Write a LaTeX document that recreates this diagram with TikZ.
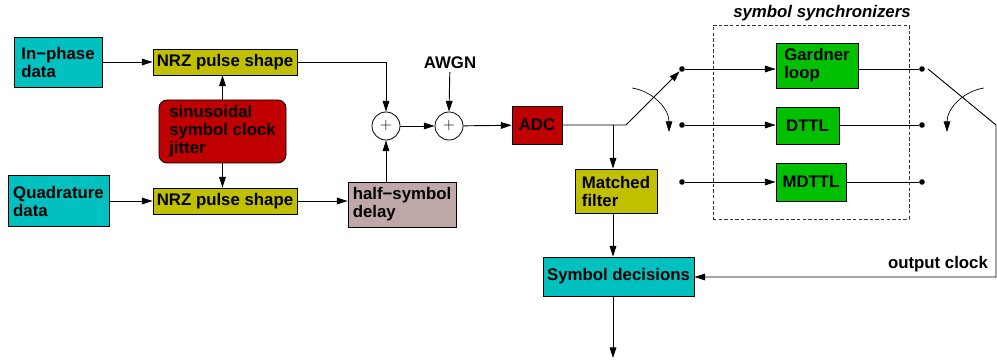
\documentclass[tikz,border=0pt]{standalone}
\usepackage{fontspec}
\setmainfont{Liberation Sans}
\usepackage{xcolor}
\usetikzlibrary{arrows.meta}

\definecolor{bcyan}{HTML}{00C0C0}
\definecolor{bolive}{HTML}{C0C000}
\definecolor{bred}{HTML}{C00000}
\definecolor{bgreen}{HTML}{00C000}
\definecolor{brose}{HTML}{C0A8A8}

\tikzset{
  blk/.style={draw=black, line width=0.6pt, align=left, inner sep=2pt},
  sumnode/.style={draw=black, line width=0.6pt, circle, minimum size=21pt, inner sep=0pt,
    font=\fontsize{12}{12}\selectfont},
  pin/.style={circle, fill=black, inner sep=0pt, minimum size=4.2pt},
  lbl/.style={inner sep=2pt},
}

\begin{document}
\begin{tikzpicture}[x=0.75pt, y=-0.75pt, line width=0.7pt,
    >={Triangle[length=8pt,width=5pt]},
    font=\fontsize{12.6}{13.5}\selectfont\bfseries]

  \useasboundingbox (0,0) rectangle (997,360);

  % transmitter side
  \node[blk,fill=bcyan,minimum width=66pt,minimum height=37.5pt] (InDa) at (58,62) {In−phase\\data};
  \node[blk,fill=bcyan,minimum width=75.75pt,minimum height=38.25pt] (QuDa) at (58.5,201) {Quadrature\\data};

  \node[blk,fill=bolive,minimum width=108pt,minimum height=19.5pt] (NrzI) at (225,62) {NRZ pulse shape};
  \node[blk,fill=bolive,minimum width=108pt,minimum height=19.5pt] (NrzQ) at (225,201) {NRZ pulse shape};

  \node[blk,fill=bred,rounded corners=6pt,minimum width=95.25pt,minimum height=47.25pt] (SiJi) at (222.5,131.5) {sinusoidal\\symbol clock\\jitter};
  \node[blk,fill=brose,minimum width=81pt,minimum height=33.75pt] (HaDe) at (402,204.5) {half−symbol\\delay};

  \node[sumnode] (SuA) at (386,126) {$+$};
  \node[sumnode] (SuB) at (449,126) {$+$};
  \node[lbl] (AWGN) at (450,63) {AWGN};

  \draw[->] (InDa) to (NrzI);
  \draw[->] (QuDa) to (NrzQ);
  \draw[->] (SiJi.north) to (SiJi.north |- NrzI.south);
  \draw[->] (SiJi.south) to (SiJi.south |- NrzQ.north);
  \draw[->] (NrzQ.east) to (NrzQ.east -| HaDe.west);
  \draw[->] (NrzI.east) -| (SuA.north);
  \draw[->] (HaDe.north -| SuA) to (SuA.south);
  \draw[->] (SuA) to (SuB);
  \draw[->] (AWGN) to (SuB.north);

  % receiver
  \node[blk,fill=bred,minimum width=37.5pt,minimum height=28.5pt] (ADC) at (537,125) {ADC};
  \node[blk,fill=bolive,minimum width=61.5pt,minimum height=33pt] (MaFi) at (616,191) {Matched\\filter};
  \node[blk,fill=bcyan,minimum width=113.25pt,minimum height=29.25pt] (SyDe) at (618.5,276.5) {Symbol decisions};

  \draw[->] (SuB) to (ADC);

  \coordinate (Br) at (613,125);
  \coordinate (SwL) at (626,125);
  \coordinate (Out) at (613,358);
  \draw[->] (Br) to (Br |- MaFi.north);
  \draw[->] (Br |- MaFi.south) to (Br |- SyDe.north);
  \draw[->] (Br |- SyDe.south) to (Out);

  % synchronizer bank
  \node[draw=black!80,line width=0.6pt,dash pattern=on 2.6pt off 1.6pt,
        minimum width=147pt,minimum height=145.5pt] (SySy) at (811,122) {};
  \node[lbl,font=\fontsize{12.6}{13.5}\selectfont\bfseries\itshape] (SySyL) at (822,13) {symbol synchronizers};

  \node[blk,fill=bgreen,minimum width=61.5pt,minimum height=33.75pt] (GaLo) at (817,65.5) {Gardner\\loop};
  \node[blk,fill=bgreen,minimum width=47.25pt,minimum height=27.75pt] (DTTL) at (807.5,125.5) {DTTL};
  \node[blk,fill=bgreen,minimum width=52.5pt,minimum height=28.5pt] (MDTTL) at (811,182) {MDTTL};

  \node[pin] (La) at (682,69) {};
  \node[pin] (Lb) at (682,125) {};
  \node[pin] (Lc) at (682,182) {};
  \node[pin] (Ra) at (922,69) {};
  \node[pin] (Rb) at (922,125) {};
  \node[pin] (Rc) at (922,182) {};

  \draw[->] (ADC.east) -- (SwL) -- (La);
  \draw[->] (La) to (La -| GaLo.west);
  \draw[->] (Lb) to (Lb -| DTTL.west);
  \draw[->] (Lc) to (Lc -| MDTTL.west);
  \draw (Ra -| GaLo.east) to (Ra);
  \draw (Rb -| DTTL.east) to (Rb);
  \draw (Rc -| MDTTL.east) to (Rc);

  % switch arms
  \coordinate (SwR0) at (928,69);
  \coordinate (SwR) at (996,125);
  \coordinate (Ck) at (996,277);
  \draw[->] (SwR0) -- (SwR) -- (Ck) -- (Ck -| SyDe.east);
  \node[lbl,anchor=east] (CkL) at (991,264) {output clock};

  \coordinate (ArLa) at (632,88);
  \coordinate (ArLb) at (669,132);
  \coordinate (ArRa) at (984,88);
  \coordinate (ArRb) at (947,132);
  \draw[->,line width=0.5pt] (ArLa) .. controls (652,91) and (669,108) .. (ArLb);
  \draw[->,line width=0.5pt] (ArRa) .. controls (964,91) and (947,108) .. (ArRb);

\end{tikzpicture}
\end{document}
